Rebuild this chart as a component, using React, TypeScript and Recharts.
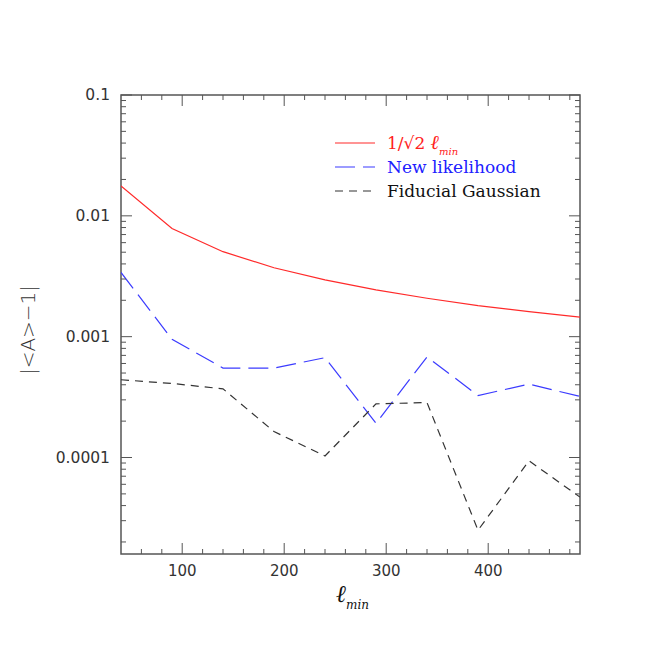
import { LineChart, Line, XAxis, YAxis, ReferenceArea } from "recharts";

const lmin = [40, 90, 140, 190, 240, 290, 340, 390, 440, 490];
const sqrtLimit = [0.0177, 0.00786, 0.00505, 0.00372, 0.00295, 0.00244, 0.00208, 0.00181, 0.00161, 0.00145];
const newLikelihood = [0.0034, 0.00095, 0.00055, 0.00055, 0.00067, 0.000192, 0.00068, 0.000326, 0.000405, 0.00032];
const fiducialGaussian = [0.00044, 0.00041, 0.00037, 0.000164, 0.000103, 0.000278, 0.000285, 0.000025, 0.000094, 0.000047];

const xTicks = [60, 80, 100, 120, 140, 160, 180, 200, 220, 240, 260, 280, 300, 320, 340, 360, 380, 400, 420, 440, 460, 480];
const xMajor = [100, 200, 300, 400];
const yTicks = [
  0.00002, 0.00003, 0.00004, 0.00005, 0.00006, 0.00007, 0.00008, 0.00009,
  0.0001, 0.0002, 0.0003, 0.0004, 0.0005, 0.0006, 0.0007, 0.0008, 0.0009,
  0.001, 0.002, 0.003, 0.004, 0.005, 0.006, 0.007, 0.008, 0.009,
  0.01, 0.02, 0.03, 0.04, 0.05, 0.06, 0.07, 0.08, 0.09, 0.1,
];
const yMajor = [0.0001, 0.001, 0.01, 0.1];
const yLabels: Record<string, string> = { "0.0001": "0.0001", "0.001": "0.001", "0.01": "0.01", "0.1": "0.1" };

const data = lmin.map((l, i) => ({
  l,
  red: sqrtLimit[i],
  blue: newLikelihood[i],
  black: fiducialGaussian[i],
}));

// plot box edges in px (matches margins below)
const LEFT = 121;
const RIGHT = 580;
const TOP = 95;
const BOTTOM = 554;
const AX = "#555";
const FONT = "'DejaVu Sans', sans-serif";
const SERIF = "'DejaVu Serif', serif";

const XTick = (props: any) => {
  const { x, payload } = props;
  const major = xMajor.includes(payload.value);
  const len = major ? 11 : 5;
  return (
    <g>
      <line x1={x} x2={x} y1={BOTTOM} y2={BOTTOM - len} stroke={AX} strokeWidth={1} />
      <line x1={x} x2={x} y1={TOP} y2={TOP + len} stroke={AX} strokeWidth={1} />
      {major && (
        <text x={x} y={BOTTOM + 22} textAnchor="middle" fontSize={15} fontFamily={FONT} fill="#333">
          {payload.value}
        </text>
      )}
    </g>
  );
};

const YTick = (props: any) => {
  const { y, payload } = props;
  const major = yMajor.some((m) => Math.abs(m - payload.value) / m < 1e-6);
  const len = major ? 11 : 5;
  return (
    <g>
      <line x1={LEFT} x2={LEFT + len} y1={y} y2={y} stroke={AX} strokeWidth={1} />
      <line x1={RIGHT} x2={RIGHT - len} y1={y} y2={y} stroke={AX} strokeWidth={1} />
      {major && (
        <text x={LEFT - 11} y={y + 5} textAnchor="end" fontSize={15.5} fontFamily={FONT} fill="#333">
          {yLabels[String(payload.value)]}
        </text>
      )}
    </g>
  );
};

const Ell = ({ size }: { size: number }) => (
  <>
    <tspan fontStyle="italic" fontFamily={SERIF} fontSize={size}>ℓ</tspan>
    <tspan fontStyle="italic" fontFamily={SERIF} fontSize={size * 0.5} dy={size * 0.3}>min</tspan>
  </>
);

const LegendBox = () => (
  <svg style={{ position: "absolute", left: 335, top: 130 }} width={290} height={80}>
    <line x1={0} x2={40} y1={13} y2={13} stroke="#ff2a2a" strokeWidth={1.2} />
    <text x={52} y={19} fontSize={17} fontFamily={SERIF} fill="#ff2020">
      1/√2 <Ell size={20} />
    </text>
    <line x1={0} x2={40} y1={37} y2={37} stroke="#3b3bff" strokeWidth={1.2} strokeDasharray="20 8" />
    <text x={52} y={43} fontSize={17} fontFamily={SERIF} fill="#2020ff">
      New likelihood
    </text>
    <line x1={0} x2={40} y1={61} y2={61} stroke="#333" strokeWidth={1.2} strokeDasharray="8 6" />
    <text x={52} y={67} fontSize={17} fontFamily={SERIF} fill="#111">
      Fiducial Gaussian
    </text>
  </svg>
);

export default function App() {
  return (
    <div style={{ position: "absolute", left: 0, top: 0, width: 654, height: 654, background: "#fff" }}>
      <LineChart width={654} height={654} data={data} margin={{ top: TOP, right: 654 - RIGHT, bottom: 60, left: 0 }}>
        <XAxis
          dataKey="l"
          type="number"
          domain={[40, 490]}
          ticks={xTicks}
          interval={0}
          allowDataOverflow
          height={654 - BOTTOM - 60}
          tickLine={false}
          axisLine={false}
          tick={<XTick />}
        />
        <YAxis
          type="number"
          scale="log"
          domain={[0.0000159, 0.1]}
          ticks={yTicks}
          interval={0}
          allowDataOverflow
          width={LEFT}
          tickLine={false}
          axisLine={false}
          tick={<YTick />}
        />
        <ReferenceArea x1={40} x2={490} y1={0.0000159} y2={0.1} fill="none" stroke={AX} strokeWidth={1.5} ifOverflow="visible" />
        <Line dataKey="red" stroke="#ff2a2a" strokeWidth={1.2} dot={false} isAnimationActive={false} />
        <Line dataKey="blue" stroke="#3b3bff" strokeWidth={1.2} strokeDasharray="20 8" dot={false} isAnimationActive={false} />
        <Line dataKey="black" stroke="#333" strokeWidth={1.2} strokeDasharray="8 6" dot={false} isAnimationActive={false} />
      </LineChart>
      <LegendBox />
      <div
        style={{
          position: "absolute",
          left: 28,
          top: 330,
          transform: "translate(-50%, -50%) rotate(-90deg)",
          fontFamily: FONT,
          fontSize: 20,
          fontWeight: 300,
          color: "#333",
          whiteSpace: "nowrap",
        }}
      >
        |&lt;A&gt;−1|
      </div>
      <svg style={{ position: "absolute", left: 0, top: 580 }} width={654} height={50}>
        <text x={336} y={22} fill="#111">
          <Ell size={24} />
        </text>
      </svg>
    </div>
  );
}
